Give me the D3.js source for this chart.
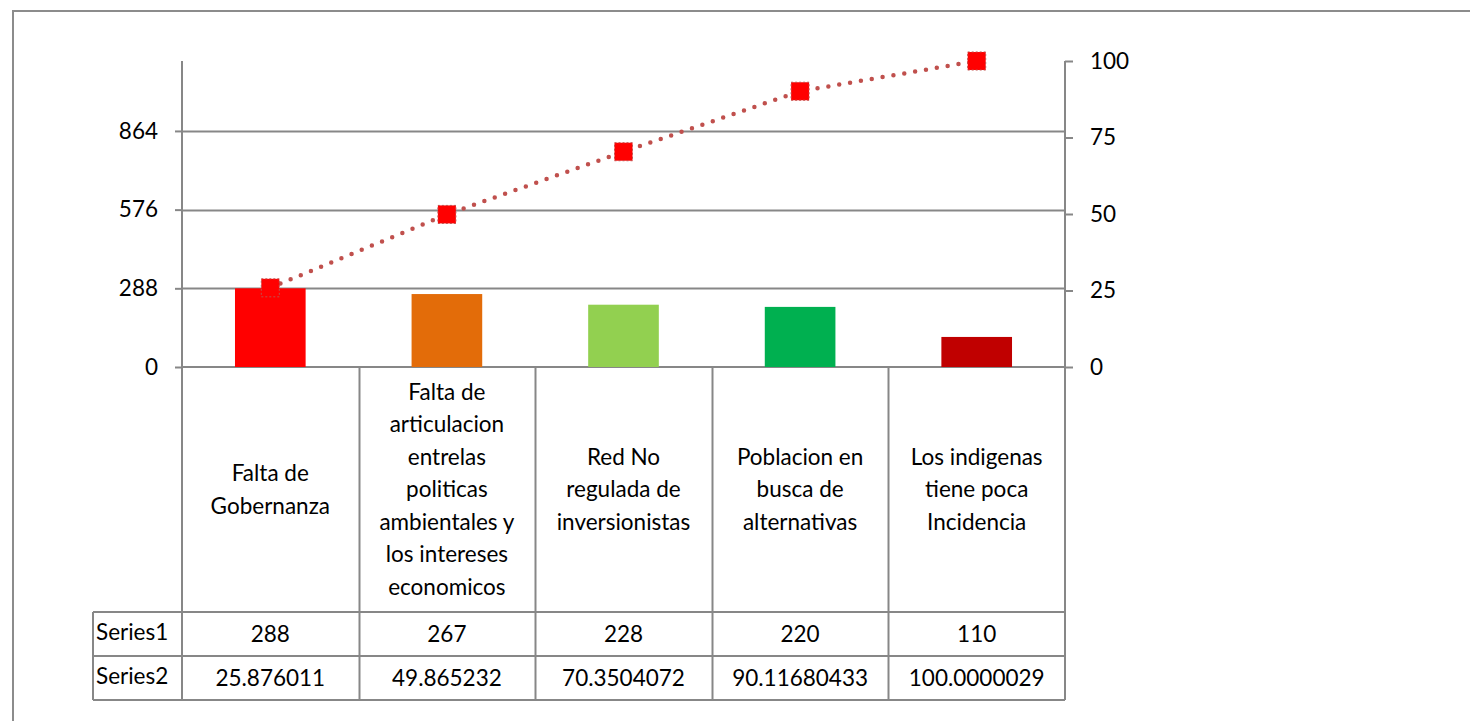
<!DOCTYPE html>
<html>
<head>
<meta charset="utf-8">
<script src="https://cdn.jsdelivr.net/npm/d3@7"></script>
<style>
  body { margin: 0; background: #fff; }
  svg { display: block; }
</style>
</head>
<body>
<div id="chart"></div>
<script>
const categories = [
  ['Falta de', 'Gobernanza'],
  ['Falta de', 'articulacion', 'entrelas', 'politicas', 'ambientales y', 'los intereses', 'economicos'],
  ['Red No', 'regulada de', 'inversionistas'],
  ['Poblacion en', 'busca de', 'alternativas'],
  ['Los indigenas', 'tiene poca', 'Incidencia']
];
const series1 = [288, 267, 228, 220, 110];
const series2 = [25.876011, 49.865232, 70.3504072, 90.11680433, 100.0000029];
const barColors = ['#ff0000', '#e36c09', '#92d050', '#00b050', '#c00000'];
const leftTicks = [0, 288, 576, 864];
const rightTicks = [0, 25, 50, 75, 100];
const seriesNames = ['Series1', 'Series2'];

const width = 1470, height = 721;
const font = 'Lato, "Open Sans", sans-serif';
const fontSize = '22.5px';
const grey = '#878787';

const plot = {left: 182, right: 1065, top: 61, bottom: 367};
const tableRows = [612, 656, 700];
const tableLeft = 93;

const svg = d3.select('#chart').append('svg')
  .attr('width', width)
  .attr('height', height)
  .style('font-family', font)
  .style('font-size', fontSize);

// outer frame (runs off the page right and bottom)
svg.append('rect')
  .attr('x', 13).attr('y', 11)
  .attr('width', 1500).attr('height', 800)
  .attr('fill', 'none')
  .attr('stroke', '#8c8c8c')
  .attr('stroke-width', 2);

const x = d3.scaleBand()
  .domain(d3.range(categories.length))
  .range([plot.left, plot.right]);

const yLeft = d3.scaleLinear([0, 1120], [plot.bottom, plot.top]);
const yRight = d3.scaleLinear([0, 100], [plot.bottom, plot.top]);

// gridlines
svg.append('g')
  .selectAll('line')
  .data(leftTicks.filter(d => d > 0))
  .join('line')
    .attr('x1', plot.left).attr('x2', plot.right)
    .attr('y1', d => Math.round(yLeft(d)) + 0.5)
    .attr('y2', d => Math.round(yLeft(d)) + 0.5)
    .attr('stroke', grey)
    .attr('stroke-width', 2);

// left axis
const leftAxis = svg.append('g')
  .attr('transform', `translate(${plot.left},0)`)
  .call(d3.axisLeft(yLeft).tickValues(leftTicks).tickSize(7).tickPadding(17).tickFormat(d3.format('d')));
leftAxis.select('.domain').remove();
leftAxis.selectAll('line').attr('stroke', grey).attr('stroke-width', 2);
leftAxis.selectAll('text').attr('fill', '#000').style('font-family', font).style('font-size', fontSize);
svg.append('line')
  .attr('x1', plot.left).attr('x2', plot.left)
  .attr('y1', plot.top).attr('y2', tableRows[2])
  .attr('stroke', grey).attr('stroke-width', 2);

// right axis
const rightAxis = svg.append('g')
  .attr('transform', `translate(${plot.right},0)`)
  .call(d3.axisRight(yRight).tickValues(rightTicks).tickSize(8).tickPadding(17));
rightAxis.select('.domain').remove();
rightAxis.selectAll('line').attr('stroke', grey).attr('stroke-width', 2);
rightAxis.selectAll('text').attr('fill', '#000').style('font-family', font).style('font-size', fontSize);
svg.append('line')
  .attr('x1', plot.right).attr('x2', plot.right)
  .attr('y1', plot.top).attr('y2', tableRows[2])
  .attr('stroke', grey).attr('stroke-width', 2);

// baseline
svg.append('line')
  .attr('x1', plot.left).attr('x2', plot.right)
  .attr('y1', plot.bottom).attr('y2', plot.bottom)
  .attr('stroke', grey).attr('stroke-width', 2);

// bars
const barW = x.bandwidth() * 0.4;
svg.append('g')
  .selectAll('rect')
  .data(series1)
  .join('rect')
    .attr('x', (d, i) => x(i) + (x.bandwidth() - barW) / 2)
    .attr('y', d => yLeft(d))
    .attr('width', barW)
    .attr('height', d => yLeft(0) - yLeft(d))
    .attr('fill', (d, i) => barColors[i]);

// dotted line
const line = d3.line()
  .x((d, i) => x(i) + x.bandwidth() / 2)
  .y(d => yRight(d));

svg.append('path')
  .datum(series2)
  .attr('d', line)
  .attr('fill', 'none')
  .attr('stroke', '#c0504d')
  .attr('stroke-width', 4.5)
  .attr('stroke-linecap', 'round')
  .attr('stroke-dasharray', '0 11');

svg.append('g')
  .selectAll('rect')
  .data(series2)
  .join('rect')
    .attr('x', (d, i) => x(i) + x.bandwidth() / 2 - 9)
    .attr('y', d => yRight(d) - 9)
    .attr('width', 18)
    .attr('height', 18)
    .attr('fill', '#ff0000')
    .attr('stroke', '#c0504d')
    .attr('stroke-width', 1)
    .attr('stroke-dasharray', '2 2');

// data table
const table = svg.append('g');

// column separators
table.selectAll('line.col')
  .data(d3.range(1, categories.length))
  .join('line')
    .attr('class', 'col')
    .attr('x1', d => Math.round(x(d)) + 0.5)
    .attr('x2', d => Math.round(x(d)) + 0.5)
    .attr('y1', plot.bottom).attr('y2', tableRows[2])
    .attr('stroke', grey).attr('stroke-width', 2);

// row lines
table.selectAll('line.row')
  .data(tableRows)
  .join('line')
    .attr('class', 'row')
    .attr('x1', tableLeft).attr('x2', plot.right)
    .attr('y1', d => d).attr('y2', d => d)
    .attr('stroke', grey).attr('stroke-width', 2);

table.append('line')
  .attr('x1', tableLeft).attr('x2', tableLeft)
  .attr('y1', tableRows[0]).attr('y2', tableRows[2])
  .attr('stroke', grey).attr('stroke-width', 2);

// category labels
const lineH = 32.5;
const labelMid = (plot.bottom + tableRows[0]) / 2;
table.selectAll('text.cat')
  .data(categories)
  .join('text')
    .attr('class', 'cat')
    .attr('text-anchor', 'middle')
    .attr('fill', '#000')
    .each(function(lines, i) {
      const t = d3.select(this);
      const y0 = labelMid - (lines.length - 1) * lineH / 2;
      lines.forEach((s, k) => {
        t.append('tspan')
          .attr('x', x(i) + x.bandwidth() / 2)
          .attr('y', y0 + k * lineH)
          .attr('dy', '0.35em')
          .text(s);
      });
    });

// series rows
[series1, series2].forEach((vals, r) => {
  const cy = (tableRows[r] + tableRows[r + 1]) / 2;
  table.append('text')
    .attr('x', tableLeft + 3)
    .attr('y', cy - 2)
    .attr('dy', '0.35em')
    .attr('fill', '#000')
    .text(seriesNames[r]);
  table.selectAll(null)
    .data(vals)
    .join('text')
      .attr('x', (d, i) => x(i) + x.bandwidth() / 2)
      .attr('y', cy)
      .attr('dy', '0.35em')
      .attr('text-anchor', 'middle')
      .attr('fill', '#000')
      .text(d => String(d));
});
</script>
</body>
</html>
